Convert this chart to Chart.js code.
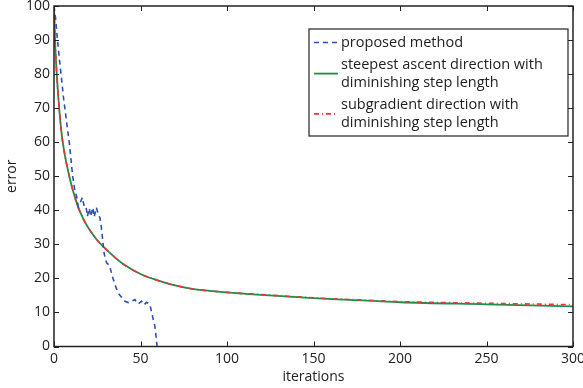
<!DOCTYPE html>
<html>
<head>
<meta charset="utf-8">
<script src="https://cdn.jsdelivr.net/npm/chart.js@4/dist/chart.umd.min.js"></script>
<style>
	body { margin: 0; background: #fff; }
	canvas { display: block; }
</style>
</head>
<body>
<canvas id="errChart" width="583" height="388"></canvas>
<script>
// data
// proposed method (blue dashed)
var proposed_x = [0, 1, 2, 3, 4.4, 5.5, 6.9, 8, 8.9, 10, 10.8, 12, 13.1, 14, 15, 16.4, 17.5, 18.5, 19.3, 20.4, 21.2, 22.5, 23.2, 24.5, 25.5, 26.6, 27.2, 28, 28.8, 29.5, 30.4, 32.1, 33.5, 35.2, 37.1, 39, 41, 42.9, 44.9, 46.8, 47.8, 48.7, 50.6, 52, 53.5, 55.4, 56.9, 58.3, 59.2, 59.6];
var proposed_y = [100, 96, 90, 85, 78.4, 73, 67.5, 63, 59.7, 54, 50, 46, 44, 41.1, 42, 43.8, 41, 41.1, 38.2, 40.6, 38.2, 40.8, 38, 40.8, 39, 37.7, 35.7, 32, 28, 26, 24.6, 23.8, 21, 18.2, 15.7, 14.5, 13.3, 12.9, 13.3, 13.8, 12.8, 12.5, 13.3, 12.2, 13, 12.4, 9, 6, 2, 0];

// steepest ascent (green solid) and subgradient (red dash-dot)
var smooth_x = [0, 0.6, 1.6, 2.9, 4.4, 6, 8.3, 10.5, 13.5, 17, 20, 25, 30, 40, 50, 60, 67, 80, 100, 115, 150, 171, 200, 250, 300];
var steepest_y = [100, 90, 80, 70.5, 62.5, 57, 51.2, 46.6, 41.6, 37.4, 34.7, 31.2, 28.6, 24.2, 21.3, 19.4, 18.3, 16.9, 15.9, 15.3, 14.2, 13.7, 13.0, 12.4, 11.8];
var subgrad_y = [100, 90, 80, 70.5, 62.5, 57, 51.2, 46.6, 41.6, 37.4, 34.7, 31.2, 28.6, 24.2, 21.3, 19.4, 18.3, 16.9, 15.9, 15.4, 14.3, 13.8, 13.2, 12.7, 12.3];

var x_ticks = [0, 50, 100, 150, 200, 250, 300];
var y_ticks = [0, 10, 20, 30, 40, 50, 60, 70, 80, 90, 100];

var legend_labels = [
	["proposed method"],
	["steepest ascent direction with", "diminishing step length"],
	["subgradient direction with", "diminishing step length"]
];

const blue = '#2d4fb0';
const green = '#17904a';
const red = '#ec3434';
const fontFam = "'Open Sans', sans-serif";

// zip x and y lists into point objects
const pts = (xs, ys) => xs.map((x, k) => ({ x: x, y: ys[k] }));

// frame, inward ticks and the boxed legend (matlab style)
const matlabFrame = {
	id: 'matlabFrame',
	afterDraw(chart) {
		var ctx = chart.ctx;
		var a = chart.chartArea;
		var xs = chart.scales.x, ys = chart.scales.y;
		ctx.save();
		ctx.strokeStyle = '#222';
		ctx.lineWidth = 1;
		ctx.beginPath();
		x_ticks.forEach(v => {
			var px = Math.round(xs.getPixelForValue(v)) + 0.5;
			ctx.moveTo(px, a.bottom); ctx.lineTo(px, a.bottom - 5);
			ctx.moveTo(px, a.top); ctx.lineTo(px, a.top + 5);
		});
		y_ticks.forEach(v => {
			var py = Math.round(ys.getPixelForValue(v)) + 0.5;
			ctx.moveTo(a.left, py); ctx.lineTo(a.left + 5, py);
			ctx.moveTo(a.right, py); ctx.lineTo(a.right - 5, py);
		});
		ctx.stroke();
		ctx.lineWidth = 1.5;
		ctx.strokeRect(a.left, a.top, a.right - a.left, a.bottom - a.top);

		// legend box
		var bx = 309, by = 29, bw = 259, bh = 107;
		ctx.fillStyle = '#fff';
		ctx.fillRect(bx, by, bw, bh);
		ctx.lineWidth = 1.2;
		ctx.strokeStyle = '#222';
		ctx.strokeRect(bx, by, bw, bh);

		ctx.font = '14.5px ' + fontFam;
		ctx.textBaseline = 'middle';
		ctx.textAlign = 'left';
		var lineH = 18.4;
		var y = by + 13.5;
		chart.data.datasets.forEach((ds, k) => {
			var lines = legend_labels[k];
			var sampleY = y + (lines.length - 1) * lineH / 2;
			ctx.strokeStyle = ds.borderColor;
			ctx.lineWidth = ds.borderWidth;
			ctx.setLineDash(ds.borderDash || []);
			ctx.beginPath();
			ctx.moveTo(bx + 5, sampleY);
			ctx.lineTo(bx + 29, sampleY);
			ctx.stroke();
			ctx.setLineDash([]);
			ctx.fillStyle = '#222';
			lines.forEach((t, j) => ctx.fillText(t, bx + 32, y + j * lineH));
			y += lines.length * lineH + 3.5;
		});
		ctx.restore();
	}
};

var err_chart = new Chart(document.getElementById('errChart'), {
	type: 'line',
	data: {
		datasets: [{
			label: 'proposed method',
			data: pts(proposed_x, proposed_y),
			borderColor: blue,
			borderWidth: 1.6,
			borderDash: [5, 4],
			tension: 0,
			order: 0
		}, {
			label: 'steepest ascent direction with diminishing step length',
			data: pts(smooth_x, steepest_y),
			borderColor: green,
			borderWidth: 1.8,
			cubicInterpolationMode: 'monotone',
			order: 2
		}, {
			label: 'subgradient direction with diminishing step length',
			data: pts(smooth_x, subgrad_y),
			borderColor: red,
			borderWidth: 1.6,
			borderDash: [5, 3, 1, 3],
			cubicInterpolationMode: 'monotone',
			order: 1
		}]
	},
	options: {
		responsive: false,
		animation: false,
		layout: { padding: { top: 6, right: 10 } },
		elements: { point: { radius: 0 } },
		plugins: {
			legend: { display: false },
			tooltip: { enabled: false }
		},
		scales: {
			x: {
				type: 'linear',
				min: 0,
				max: 300,
				afterBuildTicks: s => { s.ticks = x_ticks.map(v => ({ value: v })); },
				afterFit: s => { s.height = 41.5; s.paddingLeft = 0; s.paddingRight = 0; },
				grid: { display: false, drawTicks: false },
				border: { display: false },
				ticks: { color: '#222', padding: 4, maxRotation: 0, font: { family: fontFam, size: 14 } },
				title: { display: true, text: 'iterations', color: '#222', padding: { top: 0, bottom: 3 }, font: { family: fontFam, size: 14 } }
			},
			y: {
				min: 0,
				max: 100,
				afterBuildTicks: s => { s.ticks = y_ticks.map(v => ({ value: v })); },
				afterFit: s => { s.width = 54; s.paddingTop = 0; s.paddingBottom = 0; },
				grid: { display: false, drawTicks: false },
				border: { display: false },
				ticks: { color: '#222', padding: 4, font: { family: fontFam, size: 14 } },
				title: { display: true, text: 'error', color: '#222', padding: { top: 4, bottom: 0 }, font: { family: fontFam, size: 14 } }
			}
		}
	},
	plugins: [matlabFrame]
});
</script>
</body>
</html>
